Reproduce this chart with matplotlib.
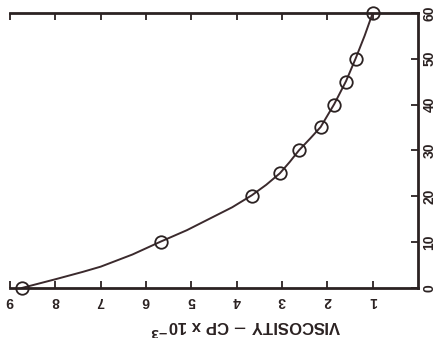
import matplotlib
matplotlib.use("Agg")
import matplotlib.pyplot as plt

# measured points (viscosity in cP x 1e-3, other axis value)
visc = [8.74, 5.68, 3.67, 3.05, 2.63, 2.15, 1.85, 1.59, 1.38, 1.00]
val = [0, 10, 20, 25, 30, 35, 40, 45, 50, 60]

# hand drawn smooth curve
curve_visc = [8.74, 8.0, 7.4, 7.0, 6.3, 5.68, 5.1, 4.66, 4.1, 3.67, 3.35, 3.05, 2.83,
              2.63, 2.38, 2.15, 1.85, 1.59, 1.38, 1.18, 1.00]
curve_val = [0, 1.9, 3.5, 4.65, 7.3, 10.1, 12.6, 14.8, 17.6, 20.2, 22.5, 25.0, 27.5,
             30.0, 32.6, 35.1, 40.1, 45.1, 50.0, 55.0, 60.0]

x_ticks = [1, 2, 3, 4, 5, 6, 7, 8, 9]
y_ticks = [0, 10, 20, 30, 40, 50, 60]

plt.rcParams["font.family"] = ["Liberation Sans", "DejaVu Sans"]

fig = plt.figure(figsize=(4.36, 3.38), dpi=100)
ax = fig.add_axes([0.023, 0.148, 0.936, 0.814])

ink = "#2b2222"
ax.plot(curve_visc, curve_val, color="#3b2a2d", linewidth=1.4, zorder=2)
ax.plot(visc, val, linestyle="none", marker="o", markersize=9,
        markerfacecolor="none", markeredgecolor=ink, markeredgewidth=1.3,
        zorder=3, clip_on=False)

ax.set_xlim(9.0, 0)
ax.set_ylim(0, 60)

ax.spines["left"].set_visible(False)
for s in ["bottom", "top", "right"]:
    ax.spines[s].set_linewidth(2.0)
    ax.spines[s].set_color(ink)

ax.set_xticks(x_ticks)
ax.set_xticklabels([str(t) for t in x_ticks], rotation=180, fontsize=10,
                   fontweight="bold", color=ink)
ax.tick_params(axis="x", direction="in", top=True, bottom=True, length=5,
               width=1.3, color=ink, pad=4)

ax.set_yticks(y_ticks)
ax.yaxis.tick_right()
ax.set_yticklabels([str(t) for t in y_ticks], rotation=90, fontsize=10,
                   fontweight="bold", color=ink, va="center")
ax.tick_params(axis="y", direction="in", left=False, right=True, length=5,
               width=1.3, color=ink, pad=3)

ax.set_xlabel(r"VISCOSITY $-$ CP x 10$^{\mathbf{-3}}$", rotation=180, fontsize=12,
              fontweight="bold", color=ink)
ax.xaxis.set_label_coords(0.578, -0.105)

plt.savefig("out.png", dpi=100)
